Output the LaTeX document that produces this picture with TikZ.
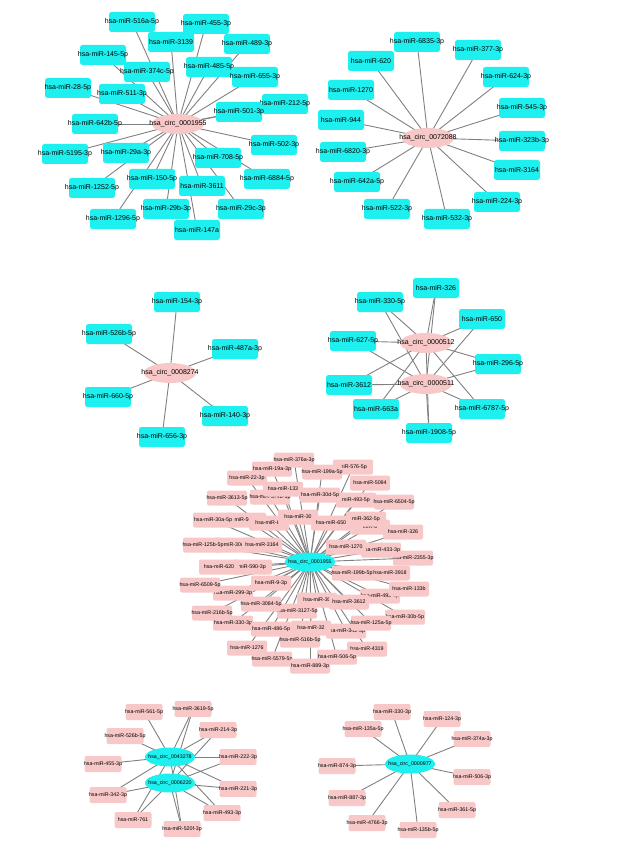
\documentclass[tikz,border=0pt]{standalone}
\usepackage{fontspec}
\setmainfont{Liberation Sans}
\usetikzlibrary{shapes.geometric}
\pgfdeclarelayer{bg}
\pgfsetlayers{bg,main}
\definecolor{cyn}{RGB}{30,240,240}
\definecolor{pnk}{RGB}{248,200,200}
\definecolor{edg}{RGB}{128,128,128}
\tikzset{
  bigbox/.style={rectangle,rounded corners=2.5,fill=cyn,minimum width=46,minimum height=20,inner sep=0},
  bigcirc/.style={ellipse,fill=pnk,minimum width=52,minimum height=20,inner sep=0},
  smallbox/.style={rectangle,rounded corners=2,fill=pnk,minimum width=40,minimum height=15,inner sep=0},
  tinybox/.style={rectangle,rounded corners=2,fill=pnk,minimum width=37,minimum height=16,inner sep=0},
  smallcirc/.style={ellipse,fill=cyn,minimum width=50,minimum height=19,inner sep=0},
  lblA/.style={font=\fontsize{7}{8}\selectfont,inner sep=0},
  lblB/.style={font=\fontsize{5.3}{6}\selectfont,inner sep=0},
  link/.style={draw=edg,line width=0.9}
}
\newcommand\nd[5]{\node[#1,label={[#2]center:#5}] (#3) at (#4) {};}
\begin{document}
\begin{tikzpicture}[x=1pt,y=-1pt]
\useasboundingbox (0,0) rectangle (631,850);
% ---------------- top-left
\nd{bigbox}{lblA}{tl1}{132,22}{hsa-miR-516a-5p}
\nd{bigbox}{lblA}{tl2}{206,24}{hsa-miR-455-3p}
\nd{bigbox}{lblA}{tl3}{171,42}{hsa-miR-3139}
\nd{bigbox}{lblA}{tl4}{247,44}{hsa-miR-489-3p}
\nd{bigbox}{lblA}{tl5}{103,55}{hsa-miR-145-5p}
\nd{bigbox}{lblA}{tl6}{147,72}{hsa-miR-374c-5p}
\nd{bigbox}{lblA}{tl7}{209,67}{hsa-miR-485-5p}
\nd{bigbox}{lblA}{tl8}{255,77}{hsa-miR-655-3p}
\nd{bigbox}{lblA}{tl9}{68,88}{hsa-miR-28-5p}
\nd{bigbox}{lblA}{tl10}{122,94}{hsa-miR-511-3p}
\nd{bigbox}{lblA}{tl11}{285,104}{hsa-miR-212-5p}
\nd{bigbox}{lblA}{tl12}{239,112}{hsa-miR-501-3p}
\nd{bigbox}{lblA}{tl13}{95,124}{hsa-miR-642b-5p}
\nd{bigbox}{lblA}{tl14}{274,145}{hsa-miR-502-3p}
\nd{bigbox}{lblA}{tl15}{65,154}{hsa-miR-5195-3p}
\nd{bigbox}{lblA}{tl16}{126,153}{hsa-miR-29a-3p}
\nd{bigbox}{lblA}{tl17}{218,158}{hsa-miR-708-5p}
\nd{bigbox}{lblA}{tl18}{267,179}{hsa-miR-6884-5p}
\nd{bigbox}{lblA}{tl19}{152,179}{hsa-miR-150-5p}
\nd{bigbox}{lblA}{tl20}{202,186}{hsa-miR-3611}
\nd{bigbox}{lblA}{tl21}{92,188}{hsa-miR-1252-5p}
\nd{bigbox}{lblA}{tl22}{113,219}{hsa-miR-1296-5p}
\nd{bigbox}{lblA}{tl23}{166,209}{hsa-miR-29b-3p}
\nd{bigbox}{lblA}{tl24}{241,209}{hsa-miR-29c-3p}
\nd{bigbox}{lblA}{tl25}{197,230}{hsa-miR-147a}
\nd{bigcirc}{lblA}{TL}{178,124}{hsa\_circ\_0001955}
% ---------------- top-right
\nd{bigbox}{lblA}{tr1}{417,42}{hsa-miR-6835-3p}
\nd{bigbox}{lblA}{tr2}{478,50}{hsa-miR-377-3p}
\nd{bigbox}{lblA}{tr3}{371,61}{hsa-miR-620}
\nd{bigbox}{lblA}{tr4}{506,77}{hsa-miR-624-3p}
\nd{bigbox}{lblA}{tr5}{351,90}{hsa-miR-1270}
\nd{bigbox}{lblA}{tr6}{522,108}{hsa-miR-545-3p}
\nd{bigbox}{lblA}{tr7}{341,120}{hsa-miR-944}
\nd{bigbox}{lblA}{tr8}{522,141}{hsa-miR-323b-3p}
\nd{bigbox}{lblA}{tr9}{343,152}{hsa-miR-6820-3p}
\nd{bigbox}{lblA}{tr10}{517,170}{hsa-miR-3164}
\nd{bigbox}{lblA}{tr11}{357,182}{hsa-miR-642a-5p}
\nd{bigbox}{lblA}{tr12}{497,202}{hsa-miR-224-3p}
\nd{bigbox}{lblA}{tr13}{387,209}{hsa-miR-522-3p}
\nd{bigbox}{lblA}{tr14}{447,219}{hsa-miR-532-3p}
\nd{bigcirc}{lblA}{TR}{428,138}{hsa\_circ\_0072088}
% ---------------- middle-left
\nd{bigbox}{lblA}{ml1}{177,302}{hsa-miR-154-3p}
\nd{bigbox}{lblA}{ml2}{109,334}{hsa-miR-526b-5p}
\nd{bigbox}{lblA}{ml3}{235,349}{hsa-miR-487a-3p}
\nd{bigbox}{lblA}{ml4}{108,397}{hsa-miR-660-5p}
\nd{bigbox}{lblA}{ml5}{225,416}{hsa-miR-140-3p}
\nd{bigbox}{lblA}{ml6}{162,437}{hsa-miR-656-3p}
\nd{bigcirc}{lblA}{ML}{170,373}{hsa\_circ\_0008274}
% ---------------- middle-right
\nd{bigbox}{lblA}{mr1}{436,288}{hsa-miR-326}
\nd{bigbox}{lblA}{mr2}{380,302}{hsa-miR-330-5p}
\nd{bigbox}{lblA}{mr3}{482,319}{hsa-miR-650}
\nd{bigbox}{lblA}{mr4}{353,341}{hsa-miR-627-5p}
\nd{bigbox}{lblA}{mr5}{498,364}{hsa-miR-296-5p}
\nd{bigbox}{lblA}{mr6}{349,385}{hsa-miR-3612}
\nd{bigbox}{lblA}{mr7}{376,409}{hsa-miR-663a}
\nd{bigbox}{lblA}{mr8}{482,409}{hsa-miR-6787-5p}
\nd{bigbox}{lblA}{mr9}{429,433}{hsa-miR-1908-5p}
\nd{bigcirc}{lblA}{MRa}{426,343}{hsa\_circ\_0000512}
\nd{bigcirc}{lblA}{MRb}{426,384}{hsa\_circ\_0000511}
% ---------------- centre network
\nd{smallbox}{lblB}{c1}{294,460}{hsa-miR-376a-3p}
\nd{smallbox}{lblB}{c2}{272,469}{hsa-miR-19a-3p}
\nd{smallbox}{lblB}{c4}{353,467}{miR-576-5p}
\nd{smallbox}{lblB}{c3}{322,472}{hsa-miR-199a-5p}
\nd{smallbox}{lblB}{c5}{247,478}{hsa-miR-22-3p}
\nd{smallbox}{lblB}{c6}{370,483}{hsa-miR-5094}
\nd{smallbox}{lblB}{c9}{270,497}{hsa-miR-374b-5p}
\nd{smallbox}{lblB}{c7}{283,489}{hsa-miR-133}
\nd{smallbox}{lblB}{c8}{227,498}{hsa-miR-3613-5p}
\nd{smallbox}{lblB}{c11}{356,500}{miR-493-5p}
\nd{smallbox}{lblB}{c10}{320,495}{hsa-miR-30d-5p}
\nd{smallbox}{lblB}{c12}{394,502}{hsa-miR-6504-5p}
\nd{smallbox}{lblB}{c14}{246,520}{miR-500b}
\nd{smallbox}{lblB}{c13}{213,520}{hsa-miR-30a-5p}
\nd{smallbox}{lblB}{c15}{269,523}{hsa-miR-68}
\nd{smallbox}{lblB}{c16}{298,517}{hsa-miR-30}
\nd{smallbox}{lblB}{c19}{370,527}{miR-6}
\nd{smallbox}{lblB}{c18}{366,519}{miR-362-5p}
\nd{smallbox}{lblB}{c17}{331,523}{hsa-miR-650}
\nd{smallbox}{lblB}{c20}{403,532}{hsa-miR-326}
\nd{smallbox}{lblB}{c23}{413,558}{hsa-miR-2355-3p}
\nd{smallbox}{lblB}{c22}{381,550}{hsa-miR-433-3p}
\nd{smallbox}{lblB}{c21}{346,547}{hsa-miR-1270}
\nd{smallbox}{lblB}{c25}{234,545}{miR-30e}
\nd{smallbox}{lblB}{c24}{203,545}{hsa-miR-125b-5p}
\nd{smallbox}{lblB}{c26}{262,545}{hsa-miR-3164}
\nd{smallbox}{lblB}{c28}{252,567}{miR-590-3p}
\nd{smallbox}{lblB}{c27}{219,567}{hsa-miR-620}
\nd{smallbox}{lblB}{c30}{390,573}{hsa-miR-3918}
\nd{smallbox}{lblB}{c29}{352,573}{hsa-miR-199b-5p}
\nd{smallbox}{lblB}{c33}{233,593}{hsa-miR-299-3p}
\nd{smallbox}{lblB}{c31}{200,585}{hsa-miR-6509-5p}
\nd{smallbox}{lblB}{c32}{271,583}{hsa-miR-9-3p}
\nd{smallbox}{lblB}{c35}{380,596}{hsa-miR-493-3p}
\nd{smallbox}{lblB}{c34}{409,589}{hsa-miR-133b}
\nd{smallbox}{lblB}{c37}{297,611}{hsa-miR-3127-5p}
\nd{smallbox}{lblB}{c36}{261,604}{hsa-miR-3084-5p}
\nd{smallbox}{lblB}{c38}{317,600}{hsa-miR-30}
\nd{smallbox}{lblB}{c39}{349,602}{hsa-miR-3612}
\nd{smallbox}{lblB}{c41}{405,617}{hsa-miR-30b-5p}
\nd{smallbox}{lblB}{c40}{212,613}{hsa-miR-216b-5p}
\nd{smallbox}{lblB}{c46}{346,631}{hsa-miR-342-3p}
\nd{smallbox}{lblB}{c42}{371,623}{hsa-miR-125a-5p}
\nd{smallbox}{lblB}{c43}{233,623}{hsa-miR-330-3p}
\nd{smallbox}{lblB}{c44}{271,629}{hsa-miR-486-5p}
\nd{smallbox}{lblB}{c45}{311,628}{hsa-miR-32}
\nd{smallbox}{lblB}{c47}{300,640}{hsa-miR-516b-5p}
\nd{smallbox}{lblB}{c48}{247,648}{hsa-miR-1276}
\nd{smallbox}{lblB}{c49}{367,649}{hsa-miR-4319}
\nd{smallbox}{lblB}{c50}{337,657}{hsa-miR-506-5p}
\nd{smallbox}{lblB}{c51}{272,659}{hsa-miR-5579-5p}
\nd{smallbox}{lblB}{c52}{310,666}{hsa-miR-889-3p}
\nd{smallcirc}{lblB}{CC}{310,562}{hsa\_circ\_0001955}
% ---------------- bottom-left
\nd{tinybox}{lblB}{bl1}{144,712}{hsa-miR-561-5p}
\nd{tinybox}{lblB}{bl2}{193,709}{hsa-miR-3619-5p}
\nd{tinybox}{lblB}{bl3}{125,736}{hsa-miR-526b-5p}
\nd{tinybox}{lblB}{bl4}{218,730}{hsa-miR-214-3p}
\nd{tinybox}{lblB}{bl5}{103,764}{hsa-miR-455-3p}
\nd{tinybox}{lblB}{bl6}{238,757}{hsa-miR-222-3p}
\nd{tinybox}{lblB}{bl7}{108,795}{hsa-miR-342-3p}
\nd{tinybox}{lblB}{bl8}{238,789}{hsa-miR-221-3p}
\nd{tinybox}{lblB}{bl9}{133,820}{hsa-miR-761}
\nd{tinybox}{lblB}{bl10}{222,813}{hsa-miR-493-3p}
\nd{tinybox}{lblB}{bl11}{182,829}{hsa-miR-520f-3p}
\nd{smallcirc}{lblB}{BLa}{170,757}{hsa\_circ\_0043278}
\nd{smallcirc}{lblB}{BLb}{170,783}{hsa\_circ\_0006220}
% ---------------- bottom-right
\nd{tinybox}{lblB}{br1}{392,712}{hsa-miR-330-3p}
\nd{tinybox}{lblB}{br2}{442,719}{hsa-miR-124-3p}
\nd{tinybox}{lblB}{br3}{363,729}{hsa-miR-135a-5p}
\nd{tinybox}{lblB}{br4}{472,739}{hsa-miR-374a-3p}
\nd{tinybox}{lblB}{br5}{337,766}{hsa-miR-874-3p}
\nd{tinybox}{lblB}{br6}{472,777}{hsa-miR-506-3p}
\nd{tinybox}{lblB}{br7}{347,798}{hsa-miR-887-3p}
\nd{tinybox}{lblB}{br8}{457,810}{hsa-miR-361-5p}
\nd{tinybox}{lblB}{br9}{367,823}{hsa-miR-4766-3p}
\nd{tinybox}{lblB}{br10}{418,830}{hsa-miR-135b-5p}
\nd{smallcirc}{lblB}{BR}{410,764}{hsa\_circ\_0000977}
% ---------------- connectors
\begin{pgfonlayer}{bg}
\foreach \i in {1,...,25} \draw[link] (TL.center) -- (tl\i.center);
\foreach \i in {1,...,14} \draw[link] (TR.center) -- (tr\i.center);
\foreach \i in {1,...,6} \draw[link] (ML.center) -- (ml\i.center);
\foreach \i in {1,...,9} {\draw[link] (MRa.center) -- (mr\i.center); \draw[link] (MRb.center) -- (mr\i.center);}
\foreach \i in {1,...,52} \draw[link] (CC.center) -- (c\i.center);
\foreach \i in {1,3,5} \draw[link] (BLa.center) -- (bl\i.center);
\foreach \i in {2,4,6,7,8,9,10,11} {\draw[link] (BLa.center) -- (bl\i.center); \draw[link] (BLb.center) -- (bl\i.center);}
\foreach \i in {1,...,10} \draw[link] (BR.center) -- (br\i.center);
\end{pgfonlayer}
\end{tikzpicture}
\end{document}
